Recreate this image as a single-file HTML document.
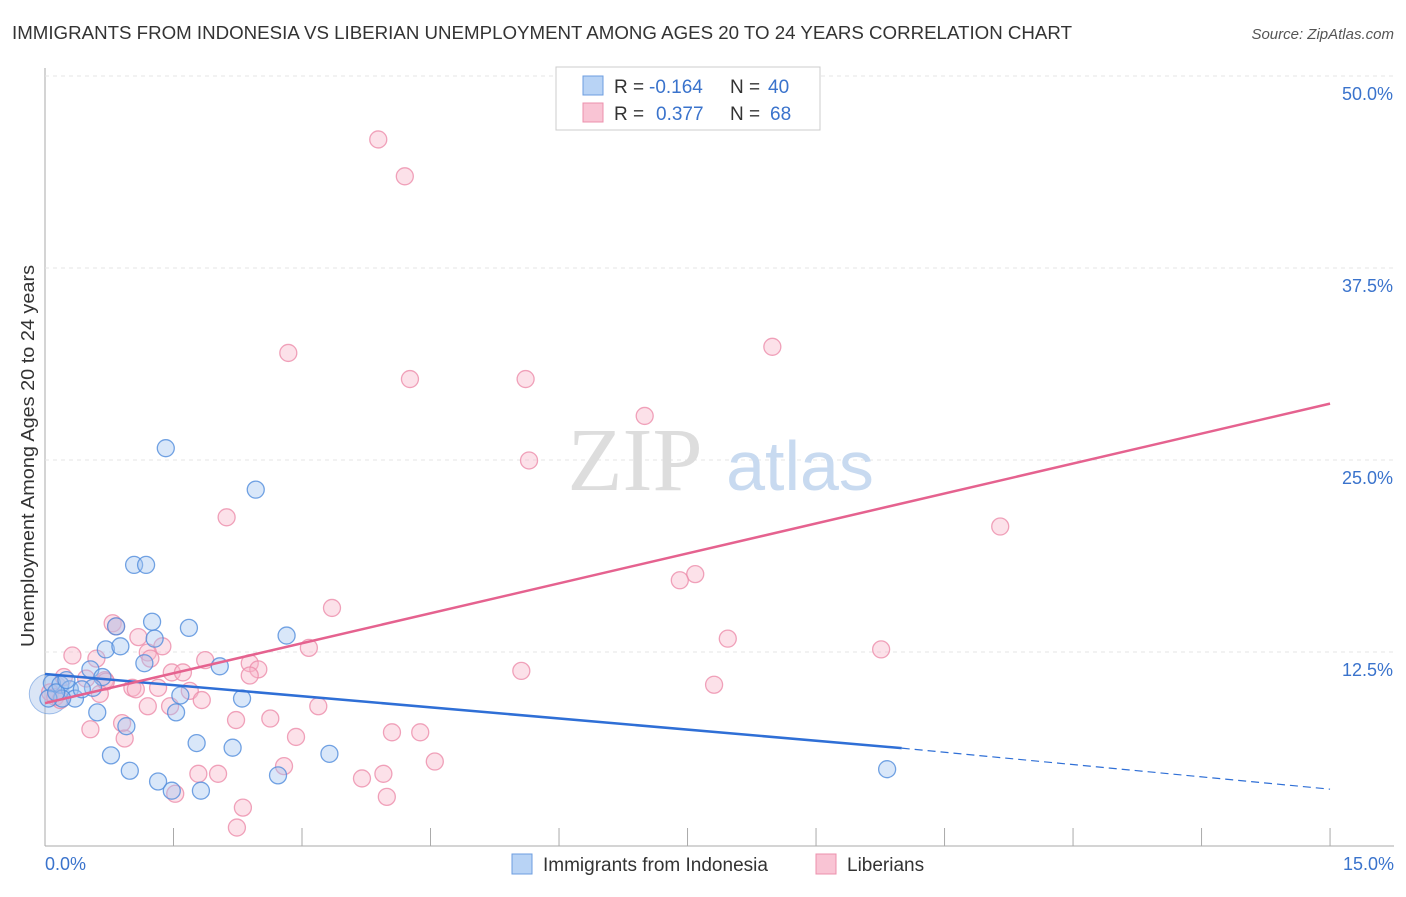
<!DOCTYPE html>
<html><head><meta charset="utf-8"><style>
body{margin:0;background:#fff;font-family:"Liberation Sans",sans-serif}
</style></head><body>
<svg width="1406" height="892" xmlns="http://www.w3.org/2000/svg">
<text x="12" y="39" font-size="18" fill="#333" textLength="1060" lengthAdjust="spacingAndGlyphs">IMMIGRANTS FROM INDONESIA VS LIBERIAN UNEMPLOYMENT AMONG AGES 20 TO 24 YEARS CORRELATION CHART</text>
<text x="1394" y="39" font-size="15" fill="#555" font-style="italic" text-anchor="end">Source: ZipAtlas.com</text>
<g id="grid"></g>
<text x="635" y="490" font-size="90" fill="#ddd" font-family="Liberation Serif" text-anchor="middle">ZIP</text>
<text x="800" y="490" font-size="70" fill="#c8daf0" text-anchor="middle">atlas</text>
<g id="marks"></g>
<text transform="translate(34,456) rotate(-90)" font-size="18" fill="#333" text-anchor="middle" textLength="382" lengthAdjust="spacingAndGlyphs">Unemployment Among Ages 20 to 24 years</text>
<g>
<rect x="556" y="67" width="264" height="63" fill="#fff" stroke="#ccc"/>
<rect x="583" y="76" width="20" height="19" fill="#b8d3f5" stroke="#6c9ee0"/>
<rect x="583" y="103" width="20" height="19" fill="#f9c4d4" stroke="#ec90ad"/>
<text x="614" y="93" font-size="19" fill="#333">R =</text>
<text x="649" y="93" font-size="19" fill="#3a73cc">-0.164</text>
<text x="730" y="93" font-size="19" fill="#333">N =</text>
<text x="768" y="93" font-size="19" fill="#3a73cc">40</text>
<text x="614" y="120" font-size="19" fill="#333">R =</text>
<text x="656" y="120" font-size="19" fill="#3a73cc">0.377</text>
<text x="730" y="120" font-size="19" fill="#333">N =</text>
<text x="770" y="120" font-size="19" fill="#3a73cc">68</text>
</g>
<g>
<rect x="512" y="854" width="20" height="20" fill="#b8d3f5" stroke="#6c9ee0"/>
<text x="543" y="871" font-size="19" fill="#333">Immigrants from Indonesia</text>
<rect x="816" y="854" width="20" height="20" fill="#f9c4d4" stroke="#ec90ad"/>
<text x="847" y="871" font-size="19" fill="#333">Liberians</text>
</g>
</svg>
<script>
const xTicks=[0,1.5,3,4.5,6,7.5,9,10.5,12,13.5,15];
const yTicks=[12.5,25,37.5,50];
const blueX=[1.41,2.46,1.04,1.18,1.25,1.68,0.83,1.28,0.71,0.88,2.82,1.16,0.53,2.04,0.67,0.08,0.18,0.29,0.56,1.58,2.30,0.35,0.20,0.61,1.53,0.95,1.77,2.19,0.77,3.32,0.99,1.32,2.72,1.48,1.82,9.83,0.04,0.13,0.43,0.25];
const blueY=[25.9,23.2,18.3,18.3,14.6,14.2,14.3,13.5,12.8,13.0,13.7,11.9,11.5,11.7,11.0,10.6,10.5,10.2,10.3,9.8,9.6,9.6,9.6,8.7,8.7,7.8,6.7,6.4,5.9,6.0,4.9,4.2,4.6,3.6,3.6,5.0,9.6,10.0,10.2,10.8];
const pinkX=[3.89,4.20,2.84,8.49,4.26,5.61,7.00,5.65,2.12,11.15,7.59,7.41,3.35,0.79,0.83,7.97,1.09,1.37,0.32,0.60,1.20,3.08,9.76,1.87,2.39,2.49,5.56,1.48,1.61,2.39,0.22,0.48,0.70,0.71,1.02,1.32,1.69,7.81,1.06,0.64,1.83,1.20,1.46,3.19,2.23,2.63,0.90,0.53,0.93,2.93,4.05,4.38,4.55,2.79,1.79,2.02,3.95,3.70,1.52,3.99,2.31,2.24,0.06,0.12,1.23,0.18];
const pinkY=[46.0,43.6,32.1,32.5,30.4,30.4,28.0,25.1,21.4,20.8,17.7,17.3,15.5,14.5,14.3,13.5,13.6,13.0,12.4,12.2,12.6,12.9,12.8,12.1,11.9,11.5,11.4,11.3,11.3,11.1,11.0,10.9,10.8,10.7,10.3,10.3,10.1,10.5,10.2,9.9,9.5,9.1,9.1,9.1,8.2,8.3,8.0,7.6,7.0,7.1,7.4,7.4,5.5,5.2,4.7,4.7,4.7,4.4,3.4,3.2,2.5,1.2,10.0,9.7,12.2,9.5];
const X=v=>45+v*85.67, Y=v=>846-v*15.36;
const NS="http://www.w3.org/2000/svg";
function mk(p,t,a){const e=document.createElementNS(NS,t);for(const k in a)e.setAttribute(k,a[k]);p.appendChild(e);return e;}
const g=document.getElementById('grid'), m=document.getElementById('marks');
mk(g,'line',{x1:45,y1:68,x2:45,y2:846,stroke:'#aaa'});
mk(g,'line',{x1:45,y1:846,x2:1394,y2:846,stroke:'#aaa'});
xTicks.forEach((t,i)=>{if(i>0){const l=mk(g,'line',{x1:X(t),y1:828,x2:X(t),y2:846,stroke:'#aaa'});}});
yTicks.forEach(t=>{const l=mk(g,'line',{x1:45,y1:Y(t)-2,x2:1394,y2:Y(t)-2,stroke:'#e4e4e4','stroke-dasharray':'4,4'});
const tx=mk(g,'text',{x:1393,y:Y(t)+22,'font-size':18,fill:'#3a73cc','text-anchor':'end'});tx.textContent=t.toFixed(1)+'%';});
[[0,'start',45],[15,'end',1394]].forEach(([v,a,x])=>{const t=mk(g,'text',{x:x,y:870,'font-size':18,fill:'#3a73cc','text-anchor':a});t.textContent=v.toFixed(1)+'%';});
const big=mk(m,'circle',{cx:X(0.05),cy:Y(9.9),r:20,fill:'rgba(150,180,230,0.35)',stroke:'rgba(100,150,220,0.6)'});

pinkX.forEach((x,i)=>{const c=mk(m,'circle',{cx:X(x),cy:Y(pinkY[i]),r:8.5,fill:'rgba(248,180,200,0.4)',stroke:'rgba(236,140,170,0.8)','stroke-width':1.3});});
blueX.forEach((x,i)=>{const c=mk(m,'circle',{cx:X(x),cy:Y(blueY[i]),r:8.5,fill:'rgba(160,195,240,0.4)',stroke:'rgba(80,140,220,0.8)','stroke-width':1.3});});
let l=mk(m,'line',{x1:X(0),y1:Y(11.2),x2:X(10.0),y2:Y(6.37),stroke:'#2f6fd6','stroke-width':2.5});
l=mk(m,'line',{x1:X(10.0),y1:Y(6.37),x2:X(15),y2:Y(3.7),stroke:'#2f6fd6','stroke-width':1.2,'stroke-dasharray':'8,5'});
l=mk(m,'line',{x1:X(0),y1:Y(9.3),x2:X(15),y2:Y(28.8),stroke:'#e5628f','stroke-width':2.5});
</script>
</body></html>
